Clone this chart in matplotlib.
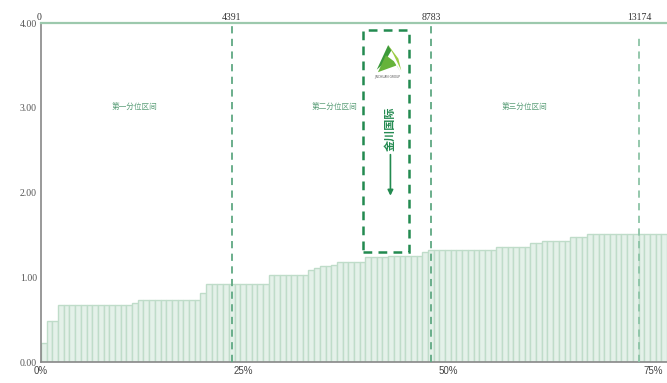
import matplotlib
matplotlib.use('Agg')
import matplotlib.pyplot as plt
from matplotlib.patches import Rectangle, Polygon
import numpy as np

# sorted values, one bar per group
values = [0.22, 0.48, 0.48] + [0.67] * 13 + [0.70] + [0.73] * 11 + [0.82] + \
         [0.92] * 11 + [1.03] * 7 + [1.09, 1.11, 1.13, 1.13, 1.14] + \
         [1.18] * 5 + [1.24] * 4 + [1.25] * 6 + [1.30] + [1.32] * 12 + \
         [1.36] * 6 + [1.40, 1.41] + [1.43] * 5 + [1.48] * 3 + [1.51] * 14

quartile_pos = [33.5, 68.6, 105.1]
quartile_labels = ['4391', '8783', '13174']
pct_labels = ['0%', '25%', '50%', '75%']
pct_pos = [0, 35.5, 71.5, 107.5]
zone_labels = ['第一分位区间', '第二分位区间', '第三分位区间']
zone_pos = [16.5, 51.5, 85.0]

GREEN = '#5fa882'
DARK = '#238a50'

plt.rcParams['font.family'] = ['Noto Sans CJK SC', 'DejaVu Sans']

fig = plt.figure(figsize=(6.67, 3.83), dpi=100)
ax = fig.add_axes([0.0615, 0.0548, 0.9385, 0.885])

x = np.arange(len(values))
ax.bar(x, values, width=1.0, align='edge', color='#e4f1e9',
       edgecolor='#bfdcc9', linewidth=1.0, zorder=1)

ax.set_xlim(0, len(values))
ax.set_ylim(0, 4)

# quartile dividers
for i, xp in enumerate(quartile_pos):
    col = '#8cc4a6' if i == 2 else GREEN
    top = 3.85 if i == 2 else 3.98
    ax.plot([xp, xp], [0, top], color=col, lw=1.3, dashes=(4, 3), zorder=3)

for xp, lab in zip(zone_pos, zone_labels):
    ax.text(xp, 3.0, lab, ha='center', va='center', fontsize=5.5,
            color='#5a9e78')

# spines and ticks
for s in ['right', 'top']:
    ax.spines[s].set_visible(False)
ax.spines['left'].set_color('#888888')
ax.spines['bottom'].set_color('#888888')
ax.spines['left'].set_linewidth(1.2)
ax.spines['bottom'].set_linewidth(1.2)
ax.axhline(4.0, color='#9cc9ad', lw=1.6, zorder=4, clip_on=False)

ax.set_yticks([0, 1, 2, 3, 4])
ax.set_yticklabels([f'{v:.2f}' for v in [0, 1, 2, 3, 4]],
                   fontfamily='Liberation Serif', fontsize=7, color='#555555')
ax.set_xticks(pct_pos)
ax.set_xticklabels(pct_labels, fontfamily='Liberation Sans', fontsize=7,
                   color='#444444')
ax.tick_params(length=0, pad=3)

top = ax.secondary_xaxis('top')
top.set_xticks([0] + quartile_pos)
top.set_xticklabels(['0'] + quartile_labels, fontfamily='Liberation Serif',
                    fontsize=7, color='#333333')
top.tick_params(length=0, pad=1)
top.spines['top'].set_visible(False)
top.get_xticklabels()[0].set_ha('right')

# watermark box
ax.add_patch(Rectangle((56.5, 1.30), 8.2, 2.62, fill=False, edgecolor=DARK,
                       lw=1.8, ls=(0, (3.5, 2.5)), zorder=5))
logo = [
    ([61.0, 59.0, 60.2, 61.6], [3.74, 3.45, 3.52, 3.68], '#3c9a3a'),
    ([60.6, 59.2, 62.5, 63.2, 62.0], [3.62, 3.42, 3.50, 3.42, 3.55], '#66b33a'),
    ([61.0, 62.8, 63.3, 62.0], [3.74, 3.58, 3.44, 3.62], '#9ccc44'),
]
for px, py, c in logo:
    ax.add_patch(Polygon(list(zip(px, py)), closed=True, color=c, lw=0, zorder=6))
ax.text(60.9, 3.36, 'JINCHUAN GROUP', ha='center', va='center', fontsize=2.2,
        color='#555555', fontfamily='DejaVu Sans', zorder=6)
ax.text(61.4, 2.75, '金川国际', rotation=90, ha='center', va='center',
        fontsize=8, fontweight='bold', color=DARK, zorder=6)
ax.annotate('', xy=(61.4, 1.93), xytext=(61.4, 2.48),
            arrowprops=dict(arrowstyle='-|>', color=DARK, lw=1.2,
                            mutation_scale=8), zorder=6)

fig.savefig('out.png', dpi=100, facecolor='white')
